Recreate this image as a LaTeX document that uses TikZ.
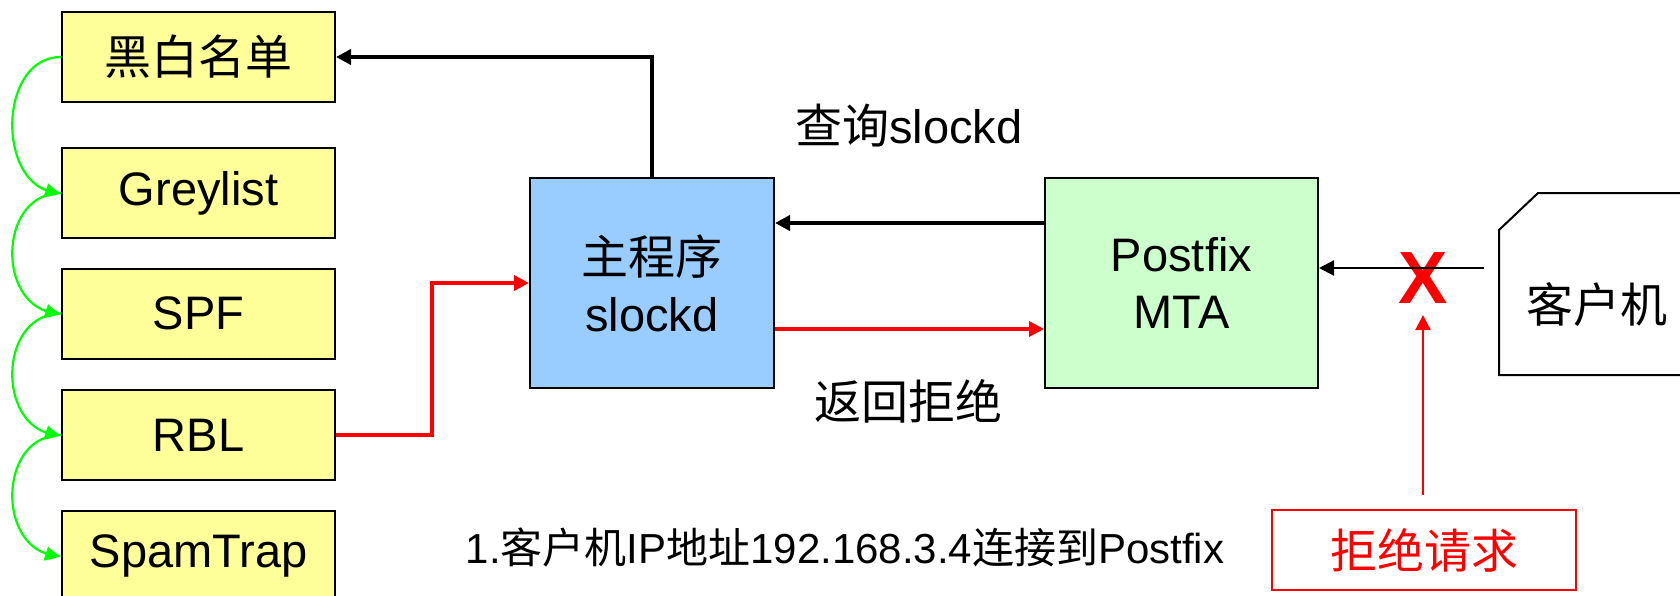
\documentclass[tikz,border=0pt]{standalone}
\usepackage{fontspec}
\setmainfont{Liberation Sans}
\newfontfamily\cjk{Noto Sans CJK SC}
\usetikzlibrary{arrows.meta,bending}
\definecolor{yfill}{HTML}{FFFF99}
\definecolor{bfill}{HTML}{99CCFF}
\definecolor{gfill}{HTML}{CCFFCC}
\definecolor{myred}{HTML}{FF0000}
\definecolor{mygreen}{HTML}{00FF00}
\begin{document}
\begin{tikzpicture}[x=1pt,y=-1pt,
  big/.style={font=\fontsize{47}{57}\selectfont},
  ybox/.style={big, draw=black, line width=2pt, fill=yfill, minimum width=273pt, minimum height=90pt, inner sep=0pt},
  sqbox/.style={big, draw=black, line width=2pt, minimum height=210pt, inner sep=0pt, align=center},
  tip/.style={-{Triangle[length=15pt,width=15pt]}},
  thickarrow/.style={tip, line width=4pt},
  redarrow/.style={tip, line width=3.5pt, draw=myred},
  thinarrow/.style={tip, line width=2.2pt},
  garc/.style={-{Triangle[length=16pt,width=14pt,bend]}, line width=2.2pt, draw=mygreen},
]
\clip (0,0) rectangle (1680,595);
\fill[white] (0,0) rectangle (1680,595);

% yellow boxes
\node[ybox] (y1) at (198.5,57) {\cjk 黑白名单};
\node[ybox] (y2) at (198.5,193) {Greylist};
\node[ybox] (y3) at (198.5,313.5) {SPF};
\node[ybox] (y4) at (198.5,435) {RBL};
\node[ybox] (y5) at (198.5,556) {SpamTrap};

% main boxes
\node[sqbox, fill=bfill, minimum width=244pt] (main) at (652,283) {{\cjk 主程序}\\slockd};
\node[sqbox, fill=gfill, minimum width=273pt] (postfix) at (1181.5,283) {Postfix\\MTA};

% client
\draw[line width=2pt, fill=white] (1700,375) -- (1499,375) -- (1499,230) -- (1538,193) -- (1700,193);
\node[big] (client) at (1597,305) {\cjk 客户机};
\coordinate (cw) at (1484,268);

% reject
\node[big, draw=myred, line width=2pt, text=myred, minimum width=304pt, minimum height=80pt, inner sep=0pt] (reject) at (1424,550) {\cjk 拒绝请求};
\node[text=myred, font=\fontsize{74}{80}\selectfont\bfseries, inner sep=0pt] (x) at (1423,278) {X};
\coordinate (rs) at (1423,495);
\coordinate (rt) at (1423,315);

% labels
\node[big] (q) at (909,126) {{\cjk 查询}slockd};
\node[big] (r) at (908,401) {\cjk 返回拒绝};
\node[font=\fontsize{42}{50}\selectfont] (note) at (845,547) {1.{\cjk 客户机}IP{\cjk 地址}192.168.3.4{\cjk 连接到}Postfix};

% connectors
\draw[thickarrow] (main.north) |- (y1.east);
\draw[thickarrow] (postfix.west |- 0,223) -- (main.east |- 0,223);
\draw[redarrow] (main.east |- 0,329) -- (postfix.west |- 0,329);
\draw[redarrow] (y4.east) -- (432,435) |- (main.west);
\draw[thinarrow] (cw) -- (postfix.east |- cw);
\draw[thinarrow, draw=myred] (rs) -- (rt);

% green arcs
\draw[garc] (y1.west) .. controls +(-65,0) and +(-65,0) .. (y2.west);
\draw[garc] (y2.west) .. controls +(-65,0) and +(-65,0) .. (y3.west);
\draw[garc] (y3.west) .. controls +(-65,0) and +(-65,0) .. (y4.west);
\draw[garc] (y4.west) .. controls +(-65,0) and +(-65,0) .. (y5.west);
\end{tikzpicture}
\end{document}
